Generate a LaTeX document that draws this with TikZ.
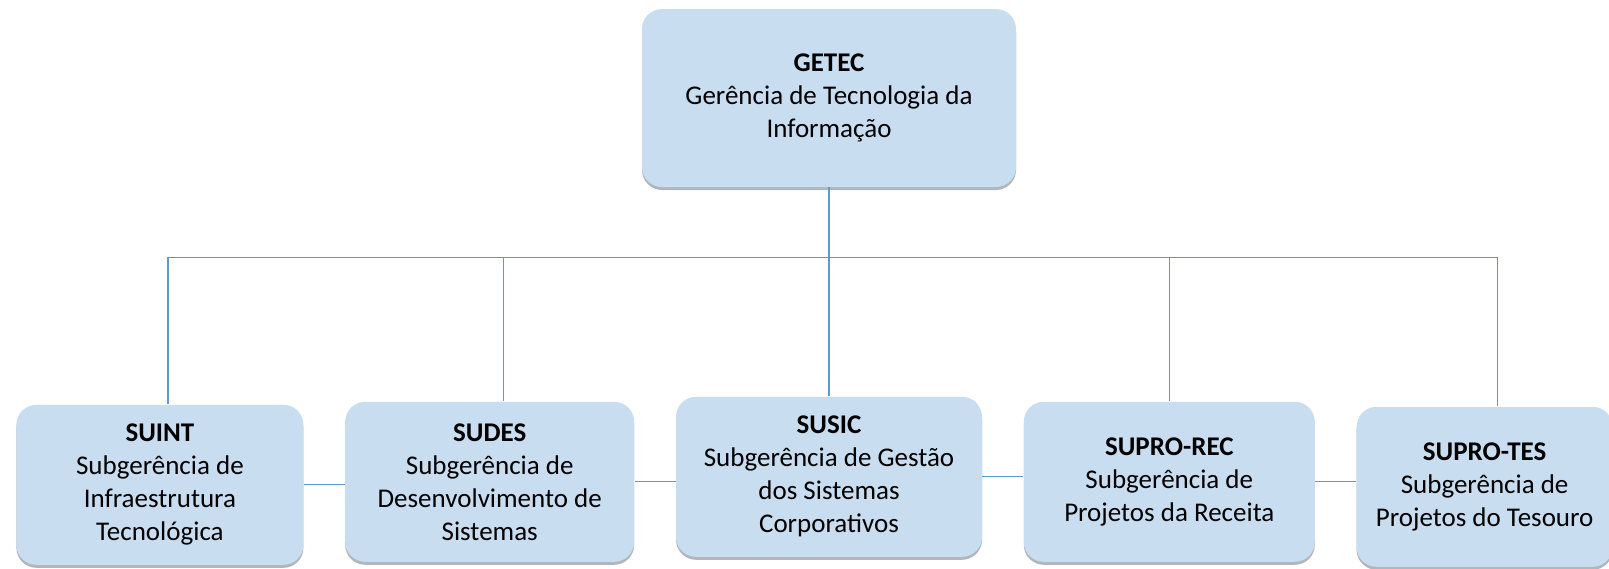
\documentclass[tikz,border=0pt]{standalone}
\usepackage{fontspec}
\setmainfont{Carlito}
\usetikzlibrary{positioning,shadows}
\definecolor{boxblue}{RGB}{201,221,241}
\definecolor{lineblue}{RGB}{91,155,213}
\tikzset{
    orgbox/.style={rectangle, rounded corners=10pt, fill=boxblue, align=center, inner sep=0,
      font=\fontsize{13.5}{16.5}\selectfont,
      drop shadow={shadow xshift=0pt, shadow yshift=-1.5pt, fill=black!50!boxblue, opacity=0.5}},
    gerbox/.style={orgbox, minimum width=187pt, minimum height=89pt},
    subbox/.style={orgbox, minimum height=80pt},
    link/.style={draw=lineblue, line width=0.6pt},
  }

\begin{document}
\begin{tikzpicture}[x=0.5pt, y=-0.5pt]
  \useasboundingbox (0,0) rectangle (1609,568);
      \node (getec) [gerbox] at (829,98) {\textbf{GETEC}\\Gerência de Tecnologia da\\Informação};
      	\node (susic) [subbox, minimum width=153pt, below=104.5pt of getec]
      		{\textbf{SUSIC}\\Subgerência de Gestão\\dos Sistemas\\Corporativos};
      	\node (sudes) [subbox, minimum width=144.5pt, left=20.5pt of susic, yshift=-2.5pt]
      		{\textbf{SUDES}\\Subgerência de\\Desenvolvimento de\\Sistemas};
      	\node (suint) [subbox, minimum width=143.5pt, left=20.5pt of sudes, yshift=-1.5pt]
      		{\textbf{SUINT}\\Subgerência de\\Infraestrutura\\Tecnológica};
      	\node (suprorec) [subbox, minimum width=145.5pt, right=20.5pt of susic, yshift=-2.5pt]
      		{\textbf{SUPRO-REC}\\Subgerência de\\Projetos da Receita};
      	\node (suprotes) [subbox, minimum width=128pt, right=20.5pt of suprorec, yshift=-2.5pt]
      		{\textbf{SUPRO-TES}\\Subgerência de\\Projetos do Tesouro};

      % bus line from GETEC down to the units
      \draw [link] (getec.south) -- ++(0,70) coordinate (bus);
      \draw [link] (bus) -- (susic.north);
      \foreach \nm/\dx in {suint/8, sudes/14, suprorec/0, suprotes/13} {
        \path ([xshift=\dx*0.5pt]\nm.north) coordinate (\nm-top);
        \draw [link] (\nm-top |- bus) -- (\nm-top);
      }
      \draw [link] (suint-top |- bus) -- (suprotes-top |- bus);

      % side links between the units
      \draw [link] (suint.east) -- (suint.east -| sudes.west);
      \draw [link] (sudes.east) -- (sudes.east -| susic.west);
      \draw [link] (susic.east) -- (susic.east -| suprorec.west);
      \draw [link] (suprorec.east) -- (suprorec.east -| suprotes.west);
  \end{tikzpicture}
\end{document}
